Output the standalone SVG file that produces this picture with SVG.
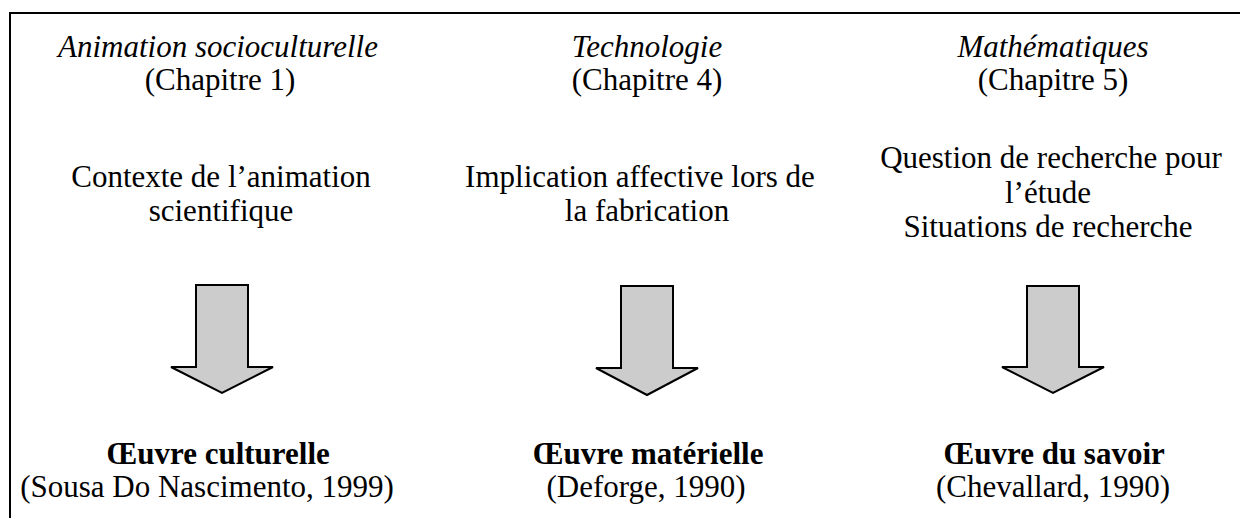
<svg xmlns="http://www.w3.org/2000/svg" width="1240" height="518" viewBox="0 0 1240 518">
<style>
text{font-family:'Liberation Serif','Times New Roman',serif;font-size:31px;fill:#000;text-anchor:middle}
.it{font-style:italic}
.b{font-weight:bold}
.arrow{fill:#cccccc;stroke:#000;stroke-width:2;stroke-linejoin:miter}
</style>
<rect x="0" y="0" width="1240" height="518" fill="#fff"/>
<rect x="10" y="13" width="1240" height="520" fill="none" stroke="#000" stroke-width="2"/>
<g id="col1-head"><text class="it" x="218" y="57">Animation socioculturelle</text><text x="220" y="90">(Chapitre 1)</text></g>
<g id="col2-head"><text class="it" x="647" y="57">Technologie</text><text x="647" y="90">(Chapitre 4)</text></g>
<g id="col3-head"><text class="it" x="1053" y="57">Mathématiques</text><text x="1053" y="90">(Chapitre 5)</text></g>
<g id="col1-mid"><text x="221" y="187">Contexte de l’animation</text><text x="221" y="221">scientifique</text></g>
<g id="col2-mid"><text x="640" y="187">Implication affective lors de</text><text x="647" y="221">la fabrication</text></g>
<g id="col3-mid"><text x="1051" y="168">Question de recherche pour</text><text x="1048" y="203">l’étude</text><text x="1048" y="237">Situations de recherche</text></g>
<g id="connectors">
<path class="arrow" d="M196,285 H248 V367 H273 L222,393 L171,367 H196 Z"/>
<path class="arrow" d="M621,286 H673 V368 H698 L647,395 L596,368 H621 Z"/>
<path class="arrow" d="M1027,286 H1079 V367 H1104 L1053,393 L1002,367 H1027 Z"/>
</g>
<g id="col1-foot"><text class="b" x="218" y="464">Œuvre culturelle</text><text x="207" y="497">(Sousa Do Nascimento, 1999)</text></g>
<g id="col2-foot"><text class="b" x="648" y="464">Œuvre matérielle</text><text x="646" y="497">(Deforge, 1990)</text></g>
<g id="col3-foot"><text class="b" x="1054" y="464">Œuvre du savoir</text><text x="1053" y="497">(Chevallard, 1990)</text></g>
</svg>
